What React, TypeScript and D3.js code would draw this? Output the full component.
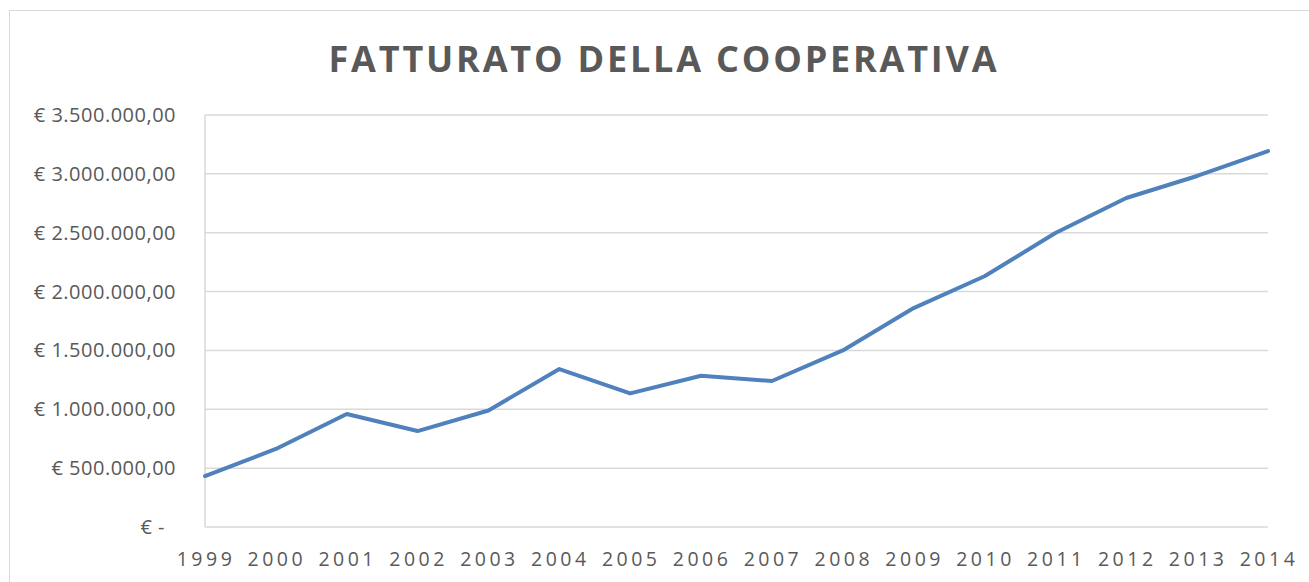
import React from "react";
import * as d3 from "d3";

const years = ["1999","2000","2001","2002","2003","2004","2005","2006","2007","2008","2009","2010","2011","2012","2013","2014"];
const revenue = [433000, 663000, 960000, 815000, 990000, 1342000, 1135000, 1285000, 1240000, 1500000, 1860000, 2130000, 2497000, 2795000, 2982000, 3194000];
const yTicks = [0, 500000, 1000000, 1500000, 2000000, 2500000, 3000000, 3500000];
const title = "FATTURATO DELLA COOPERATIVA";

const W = 1309, H = 582;
const left = 205, right = 1268, top = 115, bottom = 527;

function fmtEuro(v: number): string {
  if (v === 0) return "€ -";
  const s = Math.round(v).toString().replace(/\B(?=(\d{3})+(?!\d))/g, ".");
  return "€ " + s + ",00";
}

export default function App() {
  const x = d3.scalePoint<string>().domain(years).range([left, right]);
  const y = d3.scaleLinear().domain([0, 3500000]).range([bottom, top]);
  const line = d3.line<number>().x((_, i) => x(years[i]) as number).y((d) => y(d));
  const font = "'Open Sans', sans-serif";
  return (
    <svg width={W} height={H} style={{ position: "absolute", left: 0, top: 0, display: "block" }}>
      <rect x={0} y={0} width={W} height={H} fill="#fff" />
      <rect x={9.5} y={10.5} width={W + 10} height={H + 10} fill="#fff" stroke="#d9d9d9" strokeWidth={1} />
      <text x={664} y={72} textAnchor="middle" fontFamily={font} fontWeight="bold" fontSize={36} fill="#595959" letterSpacing={2.8}>{title}</text>
      {yTicks.map((t) => (
        <g key={t}>
          <line x1={left} x2={right} y1={y(t)} y2={y(t)} stroke="#d9d9d9" strokeWidth={1.5} />
          <text x={t === 0 ? 165 : 176} y={y(t) + 7} textAnchor="end" fontFamily={font} fontSize={20} fill="#595959" letterSpacing={0.5}>{fmtEuro(t)}</text>
        </g>
      ))}
      <line x1={left} x2={left} y1={top} y2={bottom} stroke="#d9d9d9" strokeWidth={1.5} />
      {years.map((yr) => (
        <text key={yr} x={(x(yr) as number) + 1} y={566} textAnchor="middle" fontFamily={font} fontSize={19.5} fill="#595959" letterSpacing={3.5}>{yr}</text>
      ))}
      <path d={line(revenue) || ""} fill="none" stroke="#4F81BD" strokeWidth={4} strokeLinejoin="round" strokeLinecap="round" />
    </svg>
  );
}
